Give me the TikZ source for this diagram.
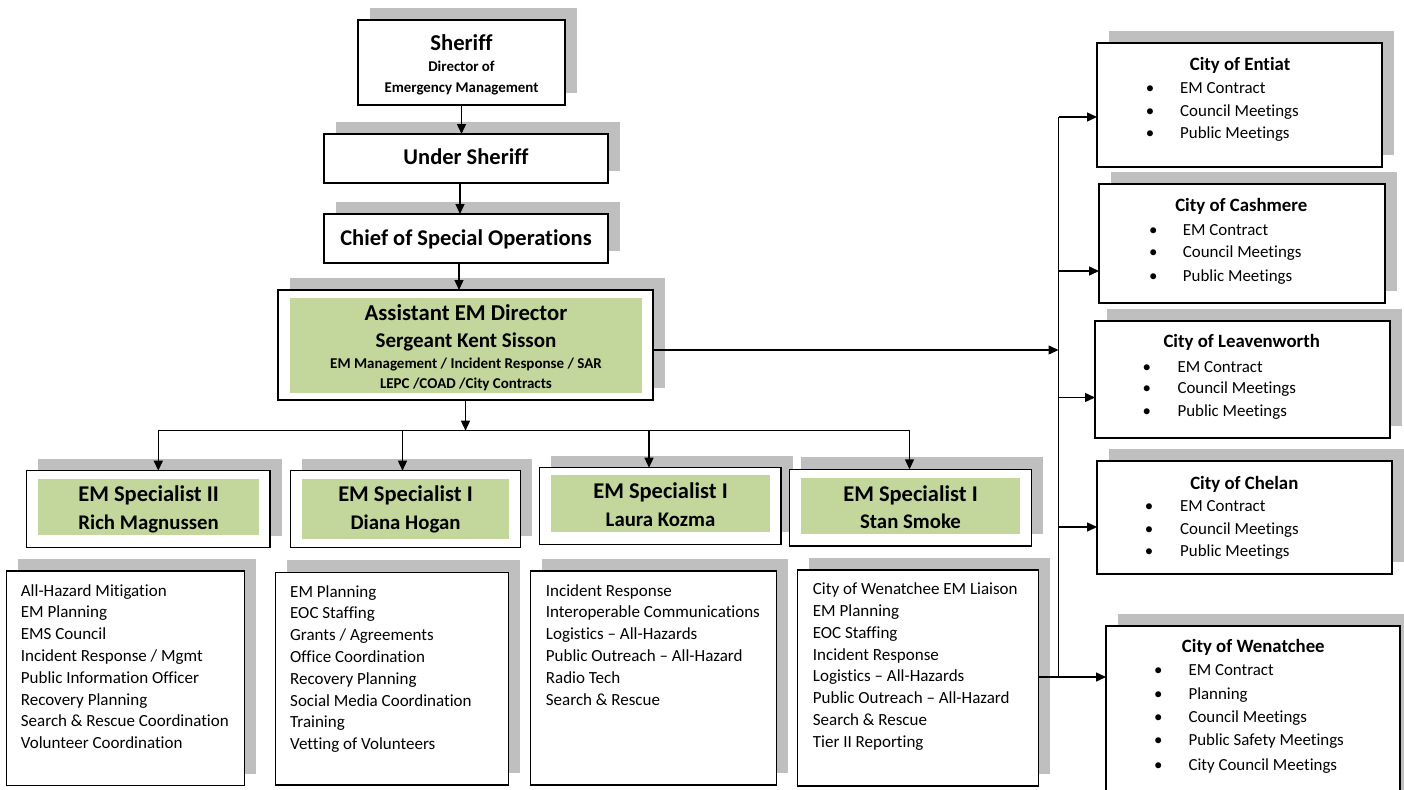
\documentclass[tikz,border=0pt]{standalone}
\usepackage{fontspec}
\setmainfont{Carlito}[Ligatures=NoCommon]
\usetikzlibrary{shadows,arrows.meta}
\definecolor{shade}{RGB}{191,191,191}
\definecolor{leafgreen}{RGB}{195,214,155}
\begin{document}
\begin{tikzpicture}[x=1pt,y=-1pt,
  box/.style={draw=black, line width=1.3pt, fill=white, inner sep=0pt, outer sep=0pt, anchor=north west,
    general shadow={fill=shade, opacity=1, shadow xshift=11.5pt, shadow yshift=12pt}},
  conn/.style={line width=1.4pt, -{Triangle[length=10pt,width=9pt]}},
  busline/.style={line width=1.4pt},
  tb/.style={inner sep=0pt, anchor=base, font=\bfseries\fontsize{#1}{#1}\selectfont},
  titem/.style={inner sep=0pt, anchor=base west, font=\fontsize{17}{20}\selectfont},
  citem/.style={inner sep=0pt, anchor=base west, font=\fontsize{16.9}{19}\selectfont},
  cbul/.style={inner sep=0pt, anchor=base, font=\fontsize{16.9}{19}\selectfont}]
\useasboundingbox (0,0) rectangle (1404,789);

% ---- top chain
\node[box, minimum width=207pt, minimum height=85pt] (sheriff) at (358,20) {};
\node[tb=22.7] (sheriffT) at (461.5,50.6) {Sheriff};
\node[tb=14.9] (sheriffA) at (461.5,71.5) {Director of};
\node[tb=14.9] (sheriffB) at (461.5,92.1) {Emergency Management};

\node[box, minimum width=284pt, minimum height=49pt] (under) at (324,134) {};
\node[tb=22.5] (underT) at (466,164.9) {Under Sheriff};

\node[box, minimum width=284pt, minimum height=49pt] (chief) at (324,214) {};
\node[tb=22.5] (chiefT) at (466,245.5) {Chief of Special Operations};

\node[box, minimum width=375pt, minimum height=110pt] (asst) at (278,290) {};
\fill[leafgreen] (290,298) rectangle (642,393);
\node[tb=22.7] (asstA) at (466,320.6) {Assistant EM Director};
\node[tb=21] (asstB) at (466,347.4) {Sergeant Kent Sisson};
\node[tb=15] (asstC) at (466,368.8) {EM Management / Incident Response / SAR};
\node[tb=15] (asstD) at (466,388.8) {LEPC /COAD /City Contracts};

% ---- specialists
\node[box, minimum width=243.3pt, minimum height=77pt] (s1) at (26.7,470.7) {};
\fill[leafgreen] (38.3,479.3) rectangle (259,535);
\node[tb=22.5] (s1a) at (148.6,501.2) {EM Specialist II};
\node[tb=20.8] (s1b) at (148.6,529) {Rich Magnussen};

\node[box, minimum width=230.4pt, minimum height=77pt] (s2) at (290.3,470.7) {};
\fill[leafgreen] (302,479.3) rectangle (509,539.3);
\node[tb=22.5] (s2a) at (405.5,501.2) {EM Specialist I};
\node[tb=20.8] (s2b) at (405.5,529) {Diana Hogan};

\node[box, minimum width=241.3pt, minimum height=76.6pt] (s3) at (539.7,467.7) {};
\fill[leafgreen] (551,475.3) rectangle (770,531.7);
\node[tb=22.5] (s3a) at (660.5,498.9) {EM Specialist I};
\node[tb=20.8] (s3b) at (660.5,526) {Laura Kozma};

\node[box, minimum width=242.4pt, minimum height=76.7pt] (s4) at (789.3,469.3) {};
\fill[leafgreen] (801,478.3) rectangle (1020,534);
\node[tb=22.5] (s4a) at (910.5,501.5) {EM Specialist I};
\node[tb=20.8] (s4b) at (910.5,528.4) {Stan Smoke};

% ---- duty lists
\node[box, minimum width=237.6pt, minimum height=214.7pt] (l1) at (6.7,571) {};
\foreach \t [count=\i] in {All-Hazard Mitigation, EM Planning, EMS Council, Incident Response / Mgmt, Public Information Officer, Recovery Planning, Search \& Rescue Coordination, Volunteer Coordination}
  \node[titem] (l1-\i) at (20.7,{596.1+(\i-1)*21.8}) {\t};

\node[box, minimum width=233pt, minimum height=212.7pt] (l2) at (275.3,572.3) {};
\foreach \t [count=\i] in {EM Planning, EOC Staffing, Grants / Agreements, Office Coordination, Recovery Planning, Social Media Coordination, Training, Vetting of Volunteers}
  \node[titem] (l2-\i) at (290,{597.1+(\i-1)*21.8}) {\t};

\node[box, minimum width=246pt, minimum height=214pt] (l3) at (530.7,571) {};
\foreach \t [count=\i] in {Incident Response, Interoperable Communications, Logistics -- All-Hazards, Public Outreach -- All-Hazard, Radio Tech, Search \& Rescue}
  \node[titem] (l3-\i) at (545.7,{596.1+(\i-1)*21.8}) {\t};

\node[box, minimum width=240.6pt, minimum height=216pt] (l4) at (797.7,570) {};
\foreach \t [count=\i] in {City of Wenatchee EM Liaison, EM Planning, EOC Staffing, Incident Response, Logistics -- All-Hazards, Public Outreach -- All-Hazard, Search \& Rescue, Tier II Reporting}
  \node[titem] (l4-\i) at (812.7,{594.7+(\i-1)*21.8}) {\t};

% ---- cities
\node[box, minimum width=285pt, minimum height=124pt] (entiat) at (1097,43) {};
\node[tb=18.8] (entiatT) at (1240,71) {City of Entiat};
\foreach \t/\yy [count=\i] in {EM Contract/93.7, Council Meetings/116.4, Public Meetings/138.7}{
  \node[cbul] (entiatB\i) at (1150,\yy) {\textbullet};
  \node[citem] (entiatI\i) at (1180,\yy) {\t};}

\node[box, minimum width=286pt, minimum height=119pt] (cash) at (1099,184) {};
\node[tb=18.8] (cashT) at (1241.3,211.7) {City of Cashmere};
\foreach \t/\yy [count=\i] in {EM Contract/235.4, Council Meetings/257.7, Public Meetings/281.1}{
  \node[cbul] (cashB\i) at (1153.3,\yy) {\textbullet};
  \node[citem] (cashI\i) at (1182.7,\yy) {\t};}

\node[box, minimum width=295pt, minimum height=117pt] (leav) at (1095,321) {};
\node[tb=18.8] (leavT) at (1241.7,347.7) {City of Leavenworth};
\foreach \t/\yy [count=\i] in {EM Contract/372.1, Council Meetings/393.7, Public Meetings/416.4}{
  \node[cbul] (leavB\i) at (1146.7,\yy) {\textbullet};
  \node[citem] (leavI\i) at (1177.3,\yy) {\t};}

\node[box, minimum width=295pt, minimum height=113pt] (chelan) at (1097,461) {};
\node[tb=18.8] (chelanT) at (1244.3,489.3) {City of Chelan};
\foreach \t/\yy [count=\i] in {EM Contract/511.4, Council Meetings/534.4, Public Meetings/556.1}{
  \node[cbul] (chelanB\i) at (1149,\yy) {\textbullet};
  \node[citem] (chelanI\i) at (1180,\yy) {\t};}

\node[box, minimum width=294pt, minimum height=180pt] (wen) at (1106,626) {};
\node[tb=18.8] (wenT) at (1253.3,652.7) {City of Wenatchee};
\foreach \t/\yy [count=\i] in {EM Contract/675.4, Planning/699.4, Council Meetings/722.1, Public Safety Meetings/745.4, City Council Meetings/770.4}{
  \node[cbul] (wenB\i) at (1158.3,\yy) {\textbullet};
  \node[citem] (wenI\i) at (1188.3,\yy) {\t};}

% ---- connectors
\draw[conn] (sheriff.south) -- (sheriff.south |- under.north);
\draw[conn] ([xshift=-6pt]under.south) -- ([xshift=-6pt]under.south |- chief.north);
\draw[conn] ([xshift=-7pt]chief.south) -- ([xshift=-7pt]chief.south |- asst.north);

\coordinate (busL) at (158.3,430.7);
\coordinate (busB) at (402.5,430.7);
\coordinate (busC) at (649,430.7);
\coordinate (busR) at (909.5,430.7);
\draw[busline] (busL) -- (busR);
\draw[conn] (asst.south) -- (asst.south |- busL);
\draw[conn] (busL) -- (busL |- s1.north);
\draw[conn] (busB) -- (busB |- s2.north);
\draw[conn] (busC) -- (busC |- s3.north);
\draw[conn] (busR) -- (busR |- s4.north);

\coordinate (v1) at (1058.5,117);
\coordinate (v2) at (1058.5,271);
\coordinate (v3) at (1058.5,397.5);
\coordinate (v4) at (1058.5,527);
\coordinate (v5) at (1058.5,677);
\draw[busline] (v1) -- (v5);
\draw[conn] ([yshift=-5pt]asst.east) -- ([yshift=-5pt]asst.east -| v1);
\draw[conn] (v1) -- (v1 -| entiat.west);
\draw[conn] (v2) -- (v2 -| cash.west);
\draw[conn] (v3) -- (v3 -| leav.west);
\draw[conn] (v4) -- (v4 -| chelan.west);
\draw[conn] (l4.east |- v5) -- (v5 -| wen.west);
\end{tikzpicture}
\end{document}
